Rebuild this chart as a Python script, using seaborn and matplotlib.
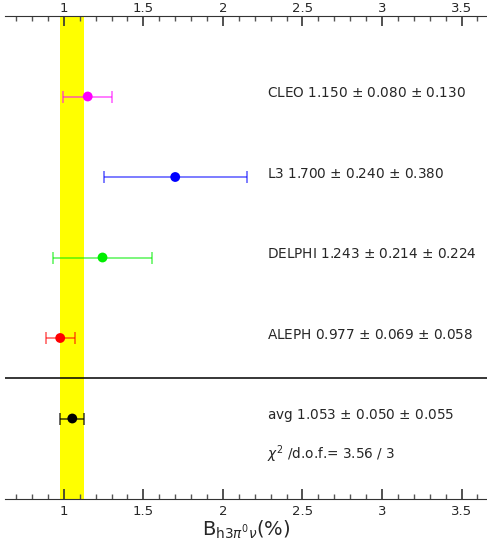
import matplotlib
matplotlib.use('Agg')
import matplotlib.pyplot as plt
from matplotlib.ticker import MultipleLocator, FormatStrFormatter, NullLocator
import seaborn as sns
import numpy as np
import pandas as pd

# measurements of B(h 3pi0 nu) in %
experiments = ['CLEO', 'L3', 'DELPHI', 'ALEPH']
values = [1.150, 1.700, 1.243, 0.977]
stat_err = [0.080, 0.240, 0.214, 0.069]
syst_err = [0.130, 0.380, 0.224, 0.058]
colors = ['#ff00ff', '#0000ff', '#00ee00', '#ff0000']

avg_value = 1.053
avg_stat = 0.050
avg_syst = 0.055
chi2 = 3.56
ndof = 3

major_ticks = [1, 1.5, 2, 2.5, 3, 3.5]

sns.set_style('white')
plt.rcParams['font.family'] = ['DejaVu Sans']

df = pd.DataFrame({'exp': experiments, 'val': values, 'stat': stat_err, 'syst': syst_err})
df['tot'] = np.sqrt(df['stat']**2 + df['syst']**2)
df['ypos'] = np.arange(len(df), 0, -1) + 1  # 5,4,3,2
avg_tot = np.sqrt(avg_stat**2 + avg_syst**2)

fig = plt.figure(figsize=(4.87, 5.52), dpi=100)
ax = fig.add_axes([5/487, 1 - 499/552, 1 - 5/487, (499 - 16)/552])

# yellow band = average +- total error
ax.axvspan(avg_value - avg_tot, avg_value + avg_tot, color='#ffff00', zorder=0, lw=0)

txt_size = 9.8
for i, row in df.iterrows():
    ax.errorbar(row['val'], row['ypos'], xerr=row['tot'], fmt='none', ecolor=colors[i],
                alpha=0.6, elinewidth=1.2, capsize=4, capthick=1.2, zorder=2)
    ax.text(2.28, row['ypos'] + 0.04, '%s %.3f $\\pm$ %.3f $\\pm$ %.3f' % (row['exp'], row['val'], row['stat'], row['syst']),
            fontsize=txt_size, va='center', ha='left')
sns.scatterplot(data=df, x='val', y='ypos', hue='exp', palette=colors, s=50, edgecolor='none',
                legend=False, ax=ax, zorder=3)

ax.errorbar(avg_value, 1, xerr=avg_tot, fmt='none', ecolor='black', alpha=0.7,
            elinewidth=1.2, capsize=4, capthick=1.2, zorder=2)
sns.scatterplot(x=[avg_value], y=[1], color='black', s=50, edgecolor='none', ax=ax, zorder=3)
ax.text(2.28, 1.04, 'avg %.3f $\\pm$ %.3f $\\pm$ %.3f' % (avg_value, avg_stat, avg_syst),
        fontsize=txt_size, va='center', ha='left')
ax.text(2.28, 0.56, '$\\chi^2$ /d.o.f.= %.2f / %d' % (chi2, ndof), fontsize=txt_size, va='center', ha='left')

ax.axhline(1.5, color='black', lw=1.1, zorder=1)

ax.set_xlim(0.63, 3.66)
ax.set_ylim(0, 6)
ax.set_yticks([])
ax.set_ylabel('')
ax.set_xticks(major_ticks)
ax.xaxis.set_minor_locator(MultipleLocator(0.1))
ax.xaxis.set_major_formatter(FormatStrFormatter('%g'))
ax.tick_params(axis='x', which='both', direction='in', top=True, bottom=True,
               labeltop=False, labelbottom=True, labelsize=9.5, color='#333333')
ax.tick_params(axis='x', which='major', length=7, width=1.2, pad=4)
ax.tick_params(axis='x', which='minor', length=3.6, width=1, color='#555555')

# top tick labels with a smaller pad
top = ax.secondary_xaxis('top')
top.set_xticks(major_ticks)
top.xaxis.set_minor_locator(NullLocator())
top.xaxis.set_major_formatter(FormatStrFormatter('%g'))
top.tick_params(axis='x', which='both', direction='in', length=0, labelsize=9.5, pad=0.5)
top.spines['top'].set_visible(False)

ax.spines['left'].set_visible(False)
ax.spines['right'].set_visible(False)
ax.spines['top'].set_color('#333333')
ax.spines['bottom'].set_color('#333333')
ax.set_xlabel(r'$\mathrm{B}_{\mathrm{h3}\pi^0\nu}(\%)$', fontsize=14, labelpad=1)

fig.savefig('out.png', dpi=100)
